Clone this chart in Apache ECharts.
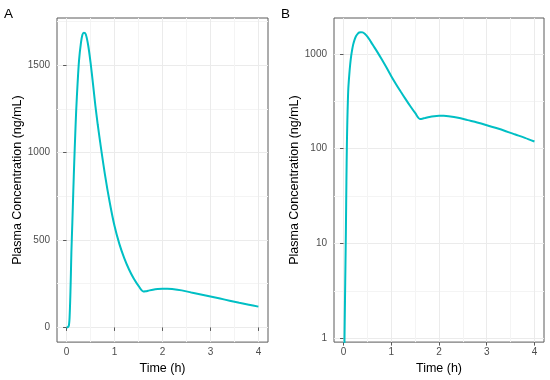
<!DOCTYPE html>
<html><head><meta charset="utf-8">
<script src="https://cdn.jsdelivr.net/npm/echarts@6/dist/echarts.min.js"></script>
<style>html,body{margin:0;padding:0;background:#fff}#c{width:550px;height:380px}</style>
</head><body><div id="c"></div><script>
// ---- data ----
const timeH = [0, 0.01, 0.02, 0.03, 0.04, 0.05, 0.06, 0.07, 0.08, 0.09, 0.1, 0.12, 0.14, 0.16, 0.18, 0.2, 0.23, 0.26, 0.3, 0.33, 0.36, 0.4, 0.45, 0.5, 0.55, 0.6, 0.65, 0.7, 0.8, 0.9, 1.0, 1.1, 1.2, 1.3, 1.4, 1.5, 1.6, 1.65, 1.7, 1.8, 1.9, 2.0, 2.1, 2.2, 2.4, 2.6, 2.8, 3.0, 3.2, 3.4, 3.6, 3.8, 4.0];
const concNgMl = [0, 0.3, 1, 2.5, 6, 15, 45, 110, 200, 310, 430, 600, 780, 950, 1100, 1240, 1400, 1530, 1630, 1675, 1687, 1678, 1615, 1515, 1395, 1270, 1160, 1060, 875, 715, 580, 478, 398, 333, 280, 238, 206, 207, 210, 216, 220, 222, 222, 220, 212, 200, 189, 177, 165, 153, 141, 130, 119];
const xTicks = [0, 1, 2, 3, 4];
const xMinor = [0.5, 1.5, 2.5, 3.5];
const yTicksLin = [0, 500, 1000, 1500];
const yMinorLin = [250, 750, 1250, 1750];
const yTicksLog = [1, 10, 100, 1000];
const yMinorLog = [3.1623, 31.623, 316.23];
const panelLabels = ['A', 'B'];
const xTitle = 'Time (h)';
const yTitle = 'Plasma Concentration (ng/mL)';

// ---- styling ----
const FONT = 'Liberation Sans, Arial, sans-serif';
const LINE = '#00BFC4';
const FRAME = '#5a5a5a';
const grids = [
  {left: 57, top: 18, width: 211, height: 327},
  {left: 334, top: 18, width: 210, height: 326}
];
const xRange = {min: -0.2, max: 4.2};
const yRangeLin = {min: -84, max: 1771};
const yRangeLog = {min: 0.92, max: 2380};
const plain = v => String(v);

function mainX(gi) {
  return {
    type: 'value', gridIndex: gi, ...xRange,
    name: xTitle, nameLocation: 'middle', nameGap: 17,
    nameTextStyle: {fontFamily: FONT, fontSize: 12.5, color: '#000'},
    axisLine: {show: false},
    axisTick: {show: true, length: 3.5, lineStyle: {color: FRAME}, customValues: xTicks},
    axisLabel: {customValues: xTicks, formatter: plain, margin: 5, fontFamily: FONT, fontSize: 10, color: '#4D4D4D'},
    splitLine: {show: true, lineStyle: {color: '#EBEBEB', width: 1}}
  };
}
function minorX(gi) {
  return {
    type: 'value', gridIndex: gi, ...xRange,
    axisLine: {show: false},
    axisTick: {show: false, customValues: xMinor},
    axisLabel: {show: false},
    splitLine: {show: true, lineStyle: {color: '#F4F4F4', width: 1}}
  };
}
function mainY(gi, type, range, ticks) {
  return {
    type: type, gridIndex: gi, ...range,
    name: yTitle, nameLocation: 'middle', nameGap: 26, nameRotate: 90,
    nameTextStyle: {fontFamily: FONT, fontSize: 12.5, color: '#000'},
    axisLine: {show: false},
    axisTick: {show: true, length: 3.5, lineStyle: {color: FRAME}, customValues: ticks},
    axisLabel: {customValues: ticks, formatter: plain, margin: 7, fontFamily: FONT, fontSize: 10, color: '#4D4D4D'},
    splitLine: {show: true, lineStyle: {color: '#EBEBEB', width: 1}}
  };
}
function minorY(gi, type, range, ticks) {
  return {
    type: type, gridIndex: gi, ...range,
    axisLine: {show: false},
    axisTick: {show: false, customValues: ticks},
    axisLabel: {show: false},
    splitLine: {show: true, lineStyle: {color: '#F4F4F4', width: 1}}
  };
}

const pairsLin = timeH.map((t, i) => [t, concNgMl[i]]);
const pairsLog = timeH.map((t, i) => [t, concNgMl[i]]).filter(p => p[1] > 0);

const chart = echarts.init(document.getElementById('c'), null, {renderer: 'canvas'});
const titleStyle = {fontFamily: FONT, fontSize: 13.5, fontWeight: 'normal', color: '#000'};
chart.setOption({
  backgroundColor: '#fff',
  animation: false,
  title: [
    {text: panelLabels[0], left: 4, top: 7, padding: 0, textStyle: titleStyle},
    {text: panelLabels[1], left: 281, top: 7, padding: 0, textStyle: titleStyle}
  ],
  grid: grids.map(g => ({...g, show: true, borderColor: FRAME, borderWidth: 1, backgroundColor: 'transparent'})),
  xAxis: [mainX(0), mainX(1), minorX(0), minorX(1)],
  yAxis: [
    mainY(0, 'value', yRangeLin, yTicksLin),
    mainY(1, 'log', yRangeLog, yTicksLog),
    minorY(0, 'value', yRangeLin, yMinorLin),
    minorY(1, 'log', yRangeLog, yMinorLog)
  ],
  series: [
    {type: 'line', xAxisIndex: 0, yAxisIndex: 0, data: pairsLin, showSymbol: false, smooth: 0.3,
     lineStyle: {color: LINE, width: 2}, z: 5},
    {type: 'line', xAxisIndex: 1, yAxisIndex: 1, data: pairsLog, showSymbol: false, smooth: 0.3,
     lineStyle: {color: LINE, width: 2}, z: 5}
  ]
});
</script></body></html>
